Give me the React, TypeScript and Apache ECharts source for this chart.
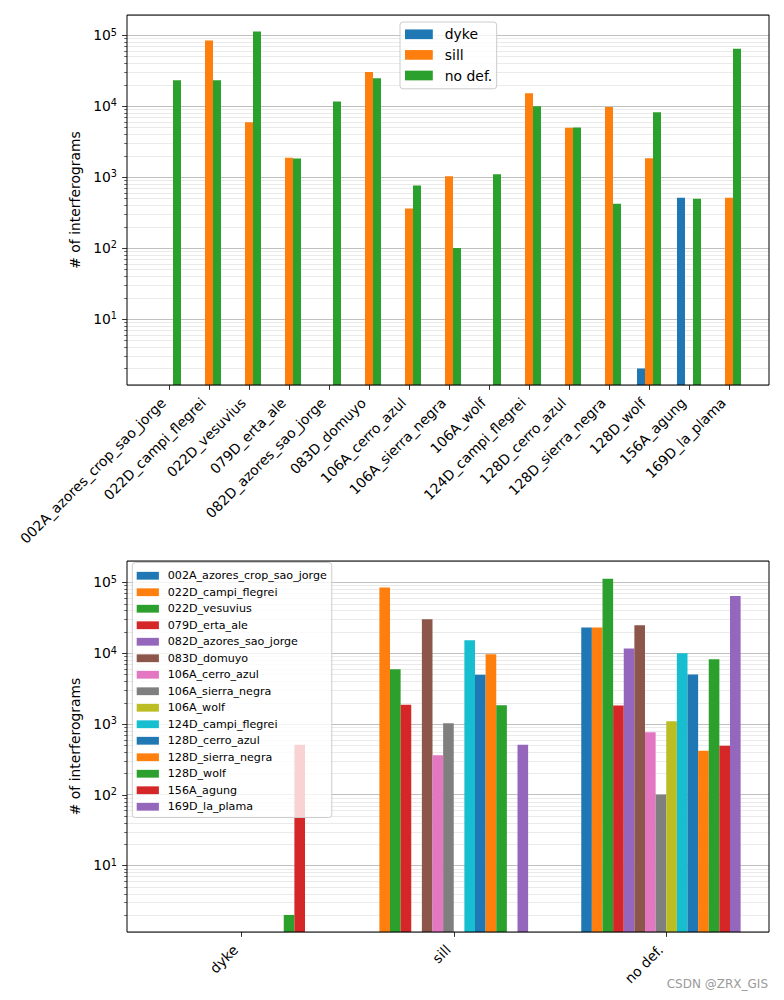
import React, { useEffect, useRef } from 'react';
import * as echarts from 'echarts';

const VOLCANOES = [
  '002A_azores_crop_sao_jorge',
  '022D_campi_flegrei',
  '022D_vesuvius',
  '079D_erta_ale',
  '082D_azores_sao_jorge',
  '083D_domuyo',
  '106A_cerro_azul',
  '106A_sierra_negra',
  '106A_wolf',
  '124D_campi_flegrei',
  '128D_cerro_azul',
  '128D_sierra_negra',
  '128D_wolf',
  '156A_agung',
  '169D_la_plama',
];
const GROUPS = ['dyke', 'sill', 'no def.'];
const DYKE = [null, null, null, null, null, null, null, null, null, null, null, null, 2, 508, null];
const SILL = [null, 84000, 5900, 1860, null, 30000, 360, 1020, null, 15100, 4950, 9650, 1830, null, 508];
const NO_DEF = [23000, 23000, 112000, 1820, 11600, 24600, 760, 100, 1090, 9900, 4980, 418, 8150, 492, 64000];

const COLORS = ['#1f77b4', '#ff7f0e', '#2ca02c', '#d62728', '#9467bd', '#8c564b', '#e377c2', '#7f7f7f', '#bcbd22', '#17becf'];
const DECADES = [1, 10, 100, 1000, 10000, 100000];
const MINOR_MULT = [2, 3, 4, 5, 6, 7, 8, 9];

const FONT = 'DejaVu Sans';
const TOP_MIN = Math.pow(10, 0.068);
const TOP_MAX = Math.pow(10, 5.282);
const BOT_MIN = Math.pow(10, 0.06);
const BOT_MAX = Math.pow(10, 5.3);

function tickData(min: number, max: number) {
  const out: any[] = [];
  DECADES.forEach((d) => {
    if (d >= min && d <= max) out.push([0, d, 1]);
    MINOR_MULT.forEach((m) => {
      const v = m * d;
      if (v >= min && v <= max) out.push([0, v, 0]);
    });
  });
  return out;
}

function renderTicks(params: any, api: any) {
  const v = api.value(1);
  const major = api.value(2) === 1;
  const pt = api.coord([0, v]);
  const cs = params.coordSys;
  const y = Math.round(pt[1]) + 0.5;
  const children: any[] = [];
  if (!major) {
    children.push({
      type: 'line',
      shape: { x1: cs.x, y1: y, x2: cs.x + cs.width, y2: y },
      style: { stroke: '#e4e4e4', lineWidth: 0.8 },
    });
  }
  const len = major ? 4.9 : 2.8;
  children.push({
    type: 'line',
    shape: { x1: cs.x - len, y1: y, x2: cs.x, y2: y },
    style: { stroke: '#000', lineWidth: major ? 0.8 : 0.6 },
  });
  return { type: 'group', children };
}

const yLabelFormatter = (v: number) => {
  const l = Math.log10(v);
  const r = Math.round(l);
  if (Math.abs(l - r) > 1e-6) return '';
  return `{b|10}{s|${r}}`;
};

const yLabelRich = {
  b: { fontSize: 13.9, fontFamily: FONT, color: '#000', lineHeight: 16 },
  s: { fontSize: 9.7, fontFamily: FONT, color: '#000', verticalAlign: 'top', lineHeight: 11 },
};

function frameYAxis(gridIndex: number, min: number, max: number) {
  return {
    type: 'log',
    logBase: 10,
    gridIndex,
    min,
    max,
    name: '# of interferograms',
    nameLocation: 'middle',
    nameGap: 41,
    nameTextStyle: { fontSize: 13.9, fontFamily: FONT, color: '#000' },
    axisLine: { show: false },
    axisTick: { show: false },
    axisLabel: { margin: 10, formatter: yLabelFormatter, rich: yLabelRich, color: '#000' },
    splitLine: { show: true, lineStyle: { color: '#b0b0b0', width: 0.8 } },
  };
}

function hiddenLogAxis(gridIndex: number, min: number, max: number) {
  return { type: 'log', logBase: 10, gridIndex, min, max, show: false, splitLine: { show: false } };
}

function catAxis(gridIndex: number, data: string[]) {
  return {
    type: 'category',
    gridIndex,
    data,
    axisLine: { show: false },
    axisTick: { show: true, alignWithLabel: true, length: 4.9, lineStyle: { color: '#000', width: 0.8 } },
    axisLabel: {
      interval: 0,
      rotate: 45,
      margin: 9.7,
      padding: [0, 8, 0, 0],
      fontSize: 13.9,
      fontFamily: FONT,
      color: '#000',
    },
    splitLine: { show: false },
  };
}

export default function App() {
  const ref = useRef<HTMLDivElement>(null);
  useEffect(() => {
    if (!ref.current) return;
    const chart = echarts.init(ref.current, null, { renderer: 'svg' });

    const topSeries = [
      { name: 'dyke', data: DYKE, color: COLORS[0] },
      { name: 'sill', data: SILL, color: COLORS[1] },
      { name: 'no def.', data: NO_DEF, color: COLORS[2] },
    ].map((s) => ({
      type: 'bar',
      name: s.name,
      xAxisIndex: 1,
      yAxisIndex: 1,
      data: s.data,
      barWidth: 8,
      barGap: '0%',
      clip: true,
      itemStyle: { color: s.color },
      z: 2,
    }));

    const bottomSeries: any[] = VOLCANOES.map((name, j) => ({
      type: 'bar',
      name,
      xAxisIndex: 3,
      yAxisIndex: 3,
      data: [DYKE[j], SILL[j], NO_DEF[j]],
      barWidth: 10.625,
      barGap: '0%',
      clip: true,
      itemStyle: { color: COLORS[j % COLORS.length] },
      z: 2,
    }));
    bottomSeries.push({
      type: 'bar',
      name: '_pad',
      xAxisIndex: 3,
      yAxisIndex: 3,
      data: [null, null, null],
      barWidth: 10.625,
      barGap: '0%',
      clip: true,
      z: 2,
    });

    const option: any = {
      animation: false,
      backgroundColor: '#fff',
      textStyle: { fontFamily: FONT },
      grid: [
        { left: 127, top: 15, width: 642, height: 370, show: true, borderColor: '#000', borderWidth: 1, backgroundColor: 'transparent', z: 5 },
        { left: 149, top: 15, width: 600, height: 370, show: false },
        { left: 127, top: 561, width: 642, height: 371, show: true, borderColor: '#000', borderWidth: 1, backgroundColor: 'transparent', z: 5 },
        { left: 135, top: 561, width: 637.5, height: 371, show: false },
      ],
      xAxis: [
        { type: 'value', gridIndex: 0, min: 0, max: 1, show: false },
        catAxis(1, VOLCANOES),
        { type: 'value', gridIndex: 2, min: 0, max: 1, show: false },
        catAxis(3, GROUPS),
      ],
      yAxis: [
        frameYAxis(0, TOP_MIN, TOP_MAX),
        hiddenLogAxis(1, TOP_MIN, TOP_MAX),
        frameYAxis(2, BOT_MIN, BOT_MAX),
        hiddenLogAxis(3, BOT_MIN, BOT_MAX),
      ],
      legend: [
        {
          data: ['dyke', 'sill', 'no def.'],
          orient: 'vertical',
          left: 400,
          top: 22,
          padding: [2, 4.5, 3, 5],
          itemGap: 0,
          itemWidth: 27.8,
          itemHeight: 9.7,
          icon: 'rect',
          backgroundColor: 'rgba(255,255,255,0.8)',
          borderColor: '#cccccc',
          borderWidth: 1,
          borderRadius: 3,
          selectedMode: false,
          textStyle: { fontSize: 13.9, fontFamily: FONT, color: '#000', lineHeight: 20.6, padding: [0, 0, 0, 7] },
        },
        {
          data: VOLCANOES,
          orient: 'vertical',
          left: 132.3,
          top: 562.5,
          padding: [5, 5, 2.5, 4.4],
          itemGap: 0,
          itemWidth: 22.2,
          itemHeight: 7.8,
          icon: 'rect',
          backgroundColor: 'rgba(255,255,255,0.8)',
          borderColor: '#cccccc',
          borderWidth: 1,
          borderRadius: 3,
          selectedMode: false,
          textStyle: { fontSize: 11.1, fontFamily: FONT, color: '#000', lineHeight: 16.5, padding: [0, 0, 0, 3.9] },
        },
      ],
      graphic: [
        {
          type: 'text',
          right: 16,
          top: 978,
          style: { text: 'CSDN @ZRX_GIS', fontSize: 12, fontFamily: FONT, fill: '#9a9a9a' },
        },
      ],
      series: [
        {
          type: 'custom',
          xAxisIndex: 0,
          yAxisIndex: 0,
          data: tickData(TOP_MIN, TOP_MAX),
          renderItem: renderTicks,
          clip: false,
          silent: true,
          z: 1,
        },
        {
          type: 'custom',
          xAxisIndex: 2,
          yAxisIndex: 2,
          data: tickData(BOT_MIN, BOT_MAX),
          renderItem: renderTicks,
          clip: false,
          silent: true,
          z: 1,
        },
        ...topSeries,
        ...bottomSeries,
      ],
    };
    chart.setOption(option);
    return () => chart.dispose();
  }, []);
  return <div ref={ref} style={{ position: 'absolute', left: 0, top: 0, width: 784, height: 1000 }} />;
}
